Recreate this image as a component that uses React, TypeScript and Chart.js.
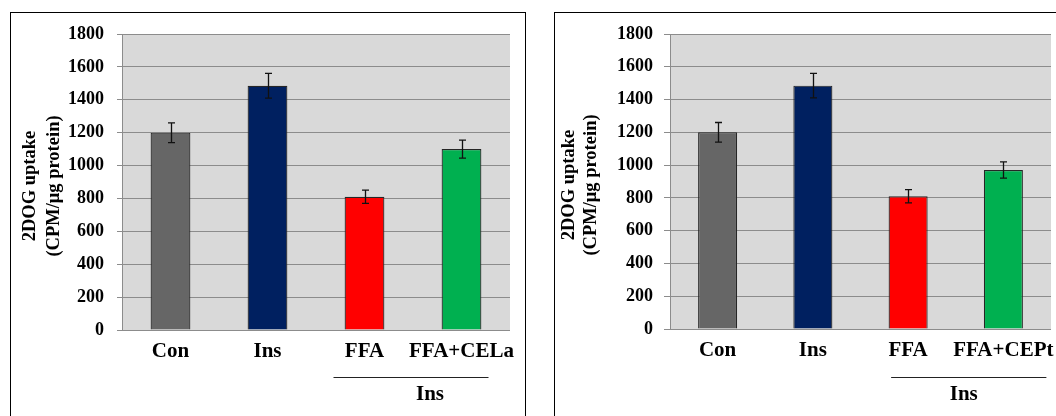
import { useEffect, useRef } from "react";
import { Chart, registerables } from "chart.js";

Chart.register(...registerables);

// ---- data ----
const categoriesCELa = ["Con", "Ins", "FFA", "FFA+CELa"];
const categoriesCEPt = ["Con", "Ins", "FFA", "FFA+CEPt"];
const uptakeCELa = [1200, 1485, 810, 1100];
const errorCELa = [60, 75, 40, 55];
const uptakeCEPt = [1200, 1485, 810, 970];
const errorCEPt = [60, 75, 40, 50];
const barColors = ["#666666", "#002060", "#ff0000", "#00b050"];
const yTitleLines = ["2DOG uptake", "(CPM/μg protein)"];
const groupLabel = "Ins";
const groupFrom = 2; // first category under the "Ins" bracket
const groupTo = 3; // last category under the "Ins" bracket
const yMin = 0;
const yMax = 1800;
const yStep = 200;

const FONT = '"Liberation Serif", "Times New Roman", serif';
const CANVAS_W = 528;
const CANVAS_H = 416;

type PanelLayout = {
  canvasLeft: number;
  areaLeft: number;
  areaRight: number;
  areaTop: number;
  areaBottom: number;
  tickLength: number;
  tickPad: number;
  xPad: number;
  titleX: number[];
  titleY: number;
  bracketFrom: number;
  bracketTo: number;
  bracketY: number;
  labelDx: number;
  labelY: number;
};

type PanelProps = {
  labels: string[];
  values: number[];
  errors: number[];
  layout: PanelLayout;
};

const leftLayout: PanelLayout = {
  canvasLeft: 0,
  areaLeft: 122,
  areaRight: 510,
  areaTop: 34,
  areaBottom: 330,
  tickLength: 5,
  tickPad: 13,
  xPad: 1,
  titleX: [30.5, 54],
  titleY: 186,
  bracketFrom: -31,
  bracketTo: 27,
  bracketY: 377.5,
  labelDx: 17,
  labelY: 395,
};

const rightLayout: PanelLayout = {
  canvasLeft: 528,
  areaLeft: 142,
  areaRight: 523,
  areaTop: 34,
  areaBottom: 329,
  tickLength: 6,
  tickPad: 11,
  xPad: 0.5,
  titleX: [41.5, 63],
  titleY: 185,
  bracketFrom: -17,
  bracketTo: 43,
  bracketY: 377.5,
  labelDx: 8,
  labelY: 395,
};

function makeDecorations(errors: number[], layout: PanelLayout) {
  return {
    id: "decorations",
    beforeDraw(chart: any) {
      const { ctx, chartArea } = chart;
      ctx.save();
      ctx.fillStyle = "#d9d9d9";
      ctx.fillRect(
        chartArea.left,
        chartArea.top,
        chartArea.right - chartArea.left,
        chartArea.bottom - chartArea.top
      );
      ctx.restore();
    },
    afterDatasetsDraw(chart: any) {
      const { ctx } = chart;
      const xs = chart.scales.x;
      const ys = chart.scales.y;
      const data = chart.data.datasets[0].data as number[];
      ctx.save();
      ctx.strokeStyle = "#111111";
      ctx.lineWidth = 1.3;
      errors.forEach((e, i) => {
        const v = data[i];
        const cx = Math.round(xs.getPixelForValue(i)) + 0.5;
        const yt = ys.getPixelForValue(v + e);
        const yb = ys.getPixelForValue(v - e);
        ctx.beginPath();
        ctx.moveTo(cx, yt);
        ctx.lineTo(cx, yb);
        ctx.moveTo(cx - 3.5, yt);
        ctx.lineTo(cx + 3.5, yt);
        ctx.moveTo(cx - 3.5, yb);
        ctx.lineTo(cx + 3.5, yb);
        ctx.stroke();
      });
      ctx.restore();
    },
    afterDraw(chart: any) {
      const { ctx } = chart;
      const xs = chart.scales.x;
      ctx.save();
      // rotated y-axis title
      ctx.fillStyle = "#000000";
      ctx.font = `bold 18.5px ${FONT}`;
      ctx.textAlign = "center";
      ctx.textBaseline = "middle";
      yTitleLines.forEach((line, i) => {
        ctx.save();
        ctx.translate(layout.titleX[i], layout.titleY);
        ctx.rotate(-Math.PI / 2);
        ctx.fillText(line, 0, 0);
        ctx.restore();
      });
      // group bracket under the treated columns
      const p1 = xs.getPixelForValue(groupFrom);
      const p2 = xs.getPixelForValue(groupTo);
      ctx.strokeStyle = "#222222";
      ctx.lineWidth = 1.2;
      ctx.beginPath();
      ctx.moveTo(p1 + layout.bracketFrom, layout.bracketY);
      ctx.lineTo(p2 + layout.bracketTo, layout.bracketY);
      ctx.stroke();
      ctx.font = `bold 21px ${FONT}`;
      ctx.fillText(groupLabel, (p1 + p2) / 2 + layout.labelDx, layout.labelY);
      ctx.restore();
    },
  };
}

function Panel({ labels, values, errors, layout }: PanelProps) {
  const ref = useRef<HTMLCanvasElement>(null);

  useEffect(() => {
    if (!ref.current) return;
    const chart = new Chart(ref.current, {
      type: "bar",
      data: {
        labels,
        datasets: [
          {
            data: values,
            backgroundColor: barColors,
            borderColor: "#262626",
            borderWidth: 1.2,
            barPercentage: 0.41,
            categoryPercentage: 1,
          },
        ],
      },
      options: {
        animation: false,
        responsive: false,
        maintainAspectRatio: false,
        devicePixelRatio: 1,
        layout: {
          padding: {
            left: 0,
            top: layout.areaTop,
            right: CANVAS_W - layout.areaRight,
            bottom: 0,
          },
        },
        plugins: {
          legend: { display: false },
          tooltip: { enabled: false },
          title: { display: false },
        },
        scales: {
          x: {
            grid: { display: false },
            border: { display: false },
            ticks: {
              color: "#000000",
              font: { family: FONT, size: 21, weight: "bold" },
              padding: layout.xPad,
              maxRotation: 0,
              autoSkip: false,
            },
            afterFit: (s: any) => {
              s.height = CANVAS_H - layout.areaBottom;
              s.paddingLeft = 0;
              s.paddingRight = 0;
            },
          },
          y: {
            min: yMin,
            max: yMax,
            ticks: {
              stepSize: yStep,
              color: "#000000",
              font: { family: FONT, size: 18, weight: "bold" },
              padding: layout.tickPad,
              callback: (v: any) => String(v),
            },
            grid: {
              color: "#8c8c8c",
              lineWidth: 1,
              drawTicks: true,
              tickLength: layout.tickLength,
            },
            border: { display: true, color: "#8c8c8c", width: 1 },
            afterFit: (s: any) => {
              s.width = layout.areaLeft;
              s.paddingTop = 0;
              s.paddingBottom = 0;
            },
          },
        },
      } as any,
      plugins: [makeDecorations(errors, layout)],
    });
    return () => chart.destroy();
  }, []);

  return (
    <canvas
      ref={ref}
      width={CANVAS_W}
      height={CANVAS_H}
      style={{
        position: "absolute",
        left: layout.canvasLeft,
        top: 0,
        width: CANVAS_W,
        height: CANVAS_H,
      }}
    />
  );
}

export default function App() {
  return (
    <div
      style={{
        position: "fixed",
        left: 0,
        top: 0,
        width: 1056,
        height: 416,
        overflow: "hidden",
        background: "#ffffff",
      }}
    >
      <Panel labels={categoriesCELa} values={uptakeCELa} errors={errorCELa} layout={leftLayout} />
      <Panel labels={categoriesCEPt} values={uptakeCEPt} errors={errorCEPt} layout={rightLayout} />
      <div
        style={{
          position: "absolute",
          left: 10,
          top: 12,
          width: 514,
          height: 440,
          border: "1px solid #000000",
          pointerEvents: "none",
        }}
      />
      <div
        style={{
          position: "absolute",
          left: 554,
          top: 12,
          width: 600,
          height: 440,
          border: "1px solid #000000",
          pointerEvents: "none",
        }}
      />
    </div>
  );
}
